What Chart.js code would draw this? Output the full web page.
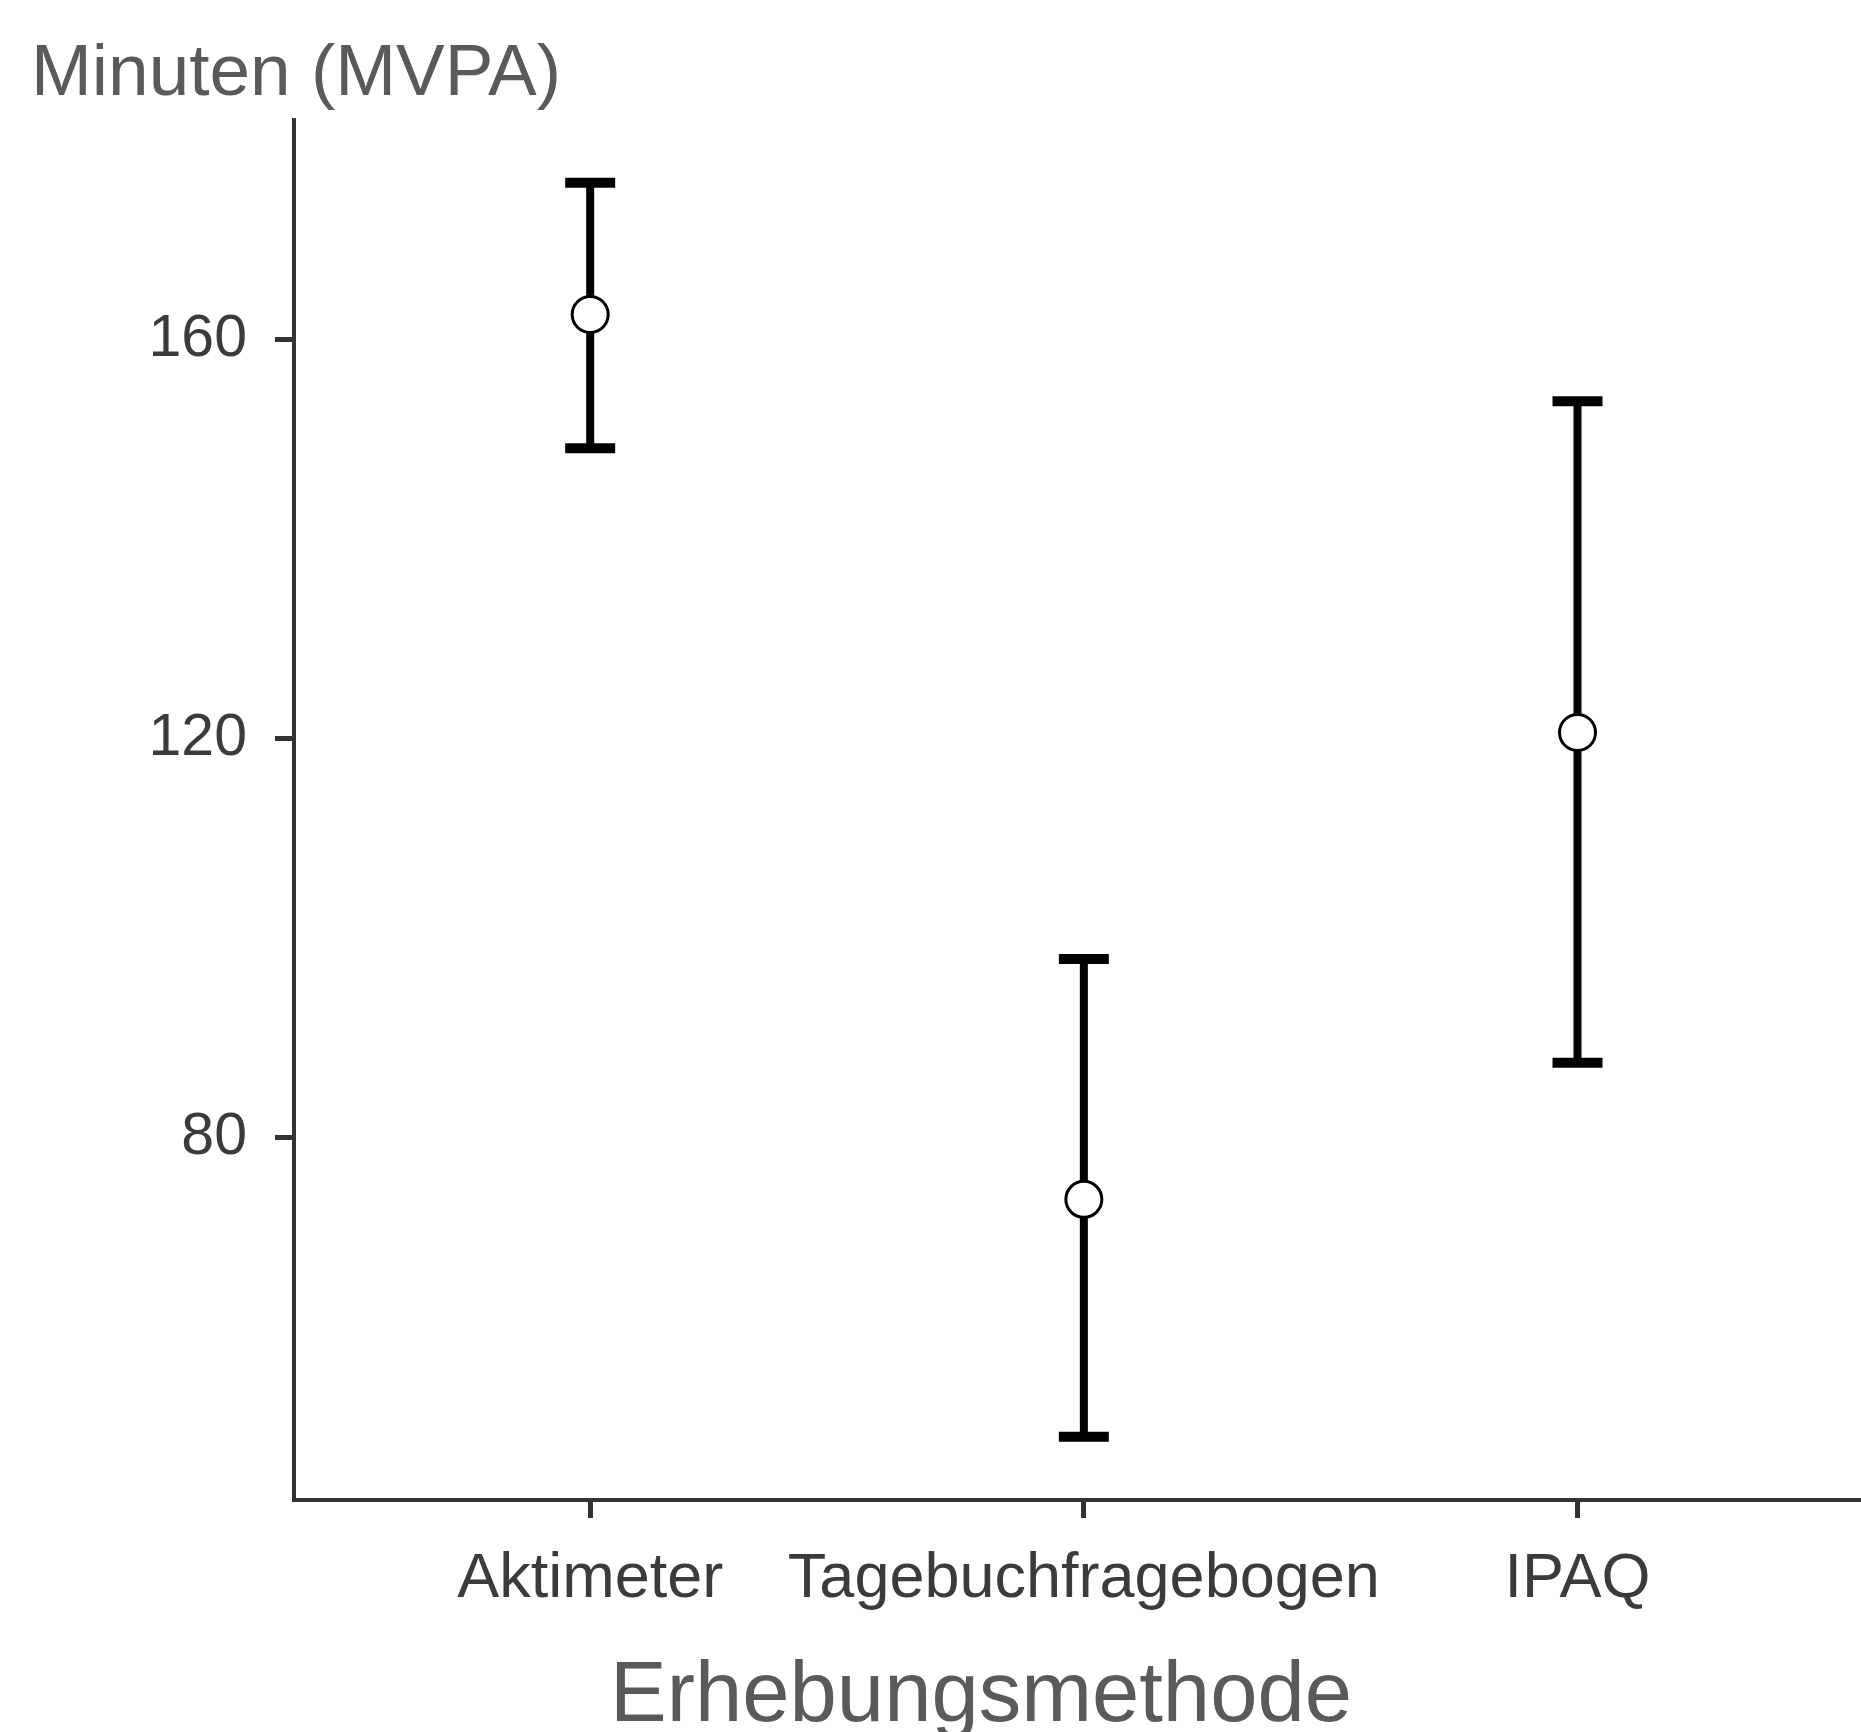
<!DOCTYPE html>
<html>
<head>
<meta charset="utf-8">
<script src="https://cdn.jsdelivr.net/npm/chart.js@4.4.1/dist/chart.umd.min.js"></script>
<style>
  html, body { margin: 0; padding: 0; background: #fff; overflow: hidden; }
  #wrap { width: 1861px; height: 1732px; overflow: hidden; }
  #box { width: 1962px; height: 1732px; }
</style>
</head>
<body>
<div id="wrap"><div id="box"><canvas id="grafico"></canvas></div></div>
<script>
const categories = ['Aktimeter', 'Tagebuchfragebogen', 'IPAQ'];
const means = [162.5, 73.8, 120.6];
const lower = [149.1, 50.0, 87.5];
const upper = [175.7, 97.9, 153.8];
const yTicks = [80, 120, 160];

const fontFamily = "'Liberation Sans', Arial, Helvetica, sans-serif";
const axisColor = '#333333';

// error bars: low/high pairs per category, separated by gaps
const errData = [];
categories.forEach((c, i) => {
    errData.push({ x: i, y: lower[i] });
    errData.push({ x: i, y: upper[i] });
    errData.push({ x: i, y: null });
});
const meanData = categories.map((c, i) => ({ x: i, y: means[i] }));

const ctx = document.getElementById('grafico').getContext('2d');
new Chart(ctx, {
    type: 'scatter',
    data: {
        datasets: [{
            label: 'Mittelwert',
            data: meanData,
            order: 0,
            pointStyle: 'circle',
            pointRadius: 18,
            pointBorderWidth: 3,
            pointBackgroundColor: '#ffffff',
            pointBorderColor: '#000000'
        }, {
            label: 'Fehlerbalken',
            data: errData,
            order: 1,
            showLine: true,
            spanGaps: false,
            borderColor: '#000000',
            borderWidth: 8,
            borderCapStyle: 'butt',
            pointStyle: 'line',
            pointRadius: 25,
            pointBorderWidth: 10,
            pointBorderColor: '#000000'
        }]
    },
    options: {
        responsive: true,
        maintainAspectRatio: false,
        animation: false,
        events: [],
        layout: { padding: { left: 31, right: 31, top: 0, bottom: 0 } },
        plugins: {
            legend: { display: false },
            tooltip: { enabled: false },
            title: {
                display: true,
                text: 'Minuten (MVPA)',
                align: 'start',
                color: '#5a5a5a',
                font: { family: fontFamily, size: 73, weight: 'normal', lineHeight: 1.2 },
                padding: { top: 31, bottom: 1.4 }
            },
            subtitle: {
                display: true,
                position: 'bottom',
                text: 'Erhebungsmethode',
                color: '#5a5a5a',
                font: { family: fontFamily, size: 85, weight: 'normal', lineHeight: 0.8 },
                padding: { top: 49.5, bottom: 0.5 }
            }
        },
        scales: {
            x: {
                type: 'linear',
                min: -0.6,
                max: 2.708,
                afterBuildTicks: (axis) => {
                    axis.ticks = categories.map((c, i) => ({ value: i }));
                },
                afterFit: (axis) => { axis.height = 114; },
                ticks: {
                    color: '#3b3b3b',
                    padding: 24,
                    maxRotation: 0,
                    autoSkip: false,
                    font: { family: fontFamily, size: 63 },
                    callback: (v) => categories[v]
                },
                grid: {
                    drawOnChartArea: false,
                    drawTicks: true,
                    tickLength: 18,
                    tickWidth: 5,
                    tickColor: axisColor
                },
                border: { display: true, color: axisColor, width: 4 }
            },
            y: {
                min: 43.66,
                max: 182,
                afterBuildTicks: (axis) => {
                    axis.ticks = yTicks.map(v => ({ value: v }));
                },
                afterFit: (axis) => { axis.width = 263; },
                ticks: {
                    color: '#3b3b3b',
                    padding: 28,
                    font: { family: fontFamily, size: 59 }
                },
                grid: {
                    drawOnChartArea: false,
                    drawTicks: true,
                    tickLength: 19,
                    tickWidth: 5,
                    tickColor: axisColor
                },
                border: { display: true, color: axisColor, width: 4 }
            }
        }
    }
});
</script>
</body>
</html>
